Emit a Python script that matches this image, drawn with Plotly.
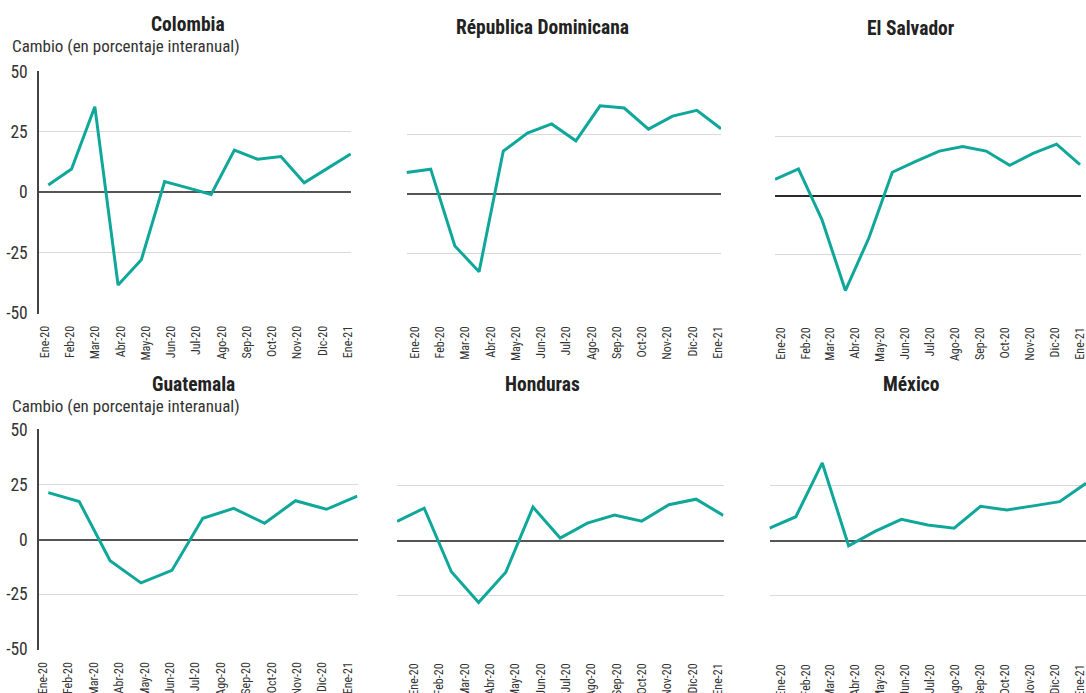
import plotly.graph_objects as go

# ---------------- data ----------------
tick_labels = ["Ene-20", "Feb-20", "Mar-20", "Abr-20", "May-20", "Jun-20", "Jul-20",
               "Ago-20", "Sep-20", "Oct-20", "Nov-20", "Dic-20", "Ene-21"]

colombia = [3.0, 9.6, 35.5, -38.5, -28.0, 4.4, 1.8, -0.9, 17.5, 13.7, 14.8, 3.9, 9.9, 15.9]
rep_dominicana = [9.2, 10.6, -21.7, -32.5, 18.2, 25.8, 29.6, 22.5, 37.2, 36.3, 27.4, 32.9, 35.3, 27.6]
el_salvador = [6.8, 11.2, -10.1, -40.0, -17.9, 9.8, 14.4, 18.7, 20.6, 18.7, 12.7, 17.7, 21.6, 13.0]
guatemala = [21.4, 17.3, -9.7, -19.8, -14.1, 9.7, 14.2, 7.4, 17.7, 13.8, 19.8]
honduras = [8.8, 14.8, -14.2, -28.2, -14.4, 15.3, 1.2, 8.0, 11.7, 8.9, 16.4, 18.9, 11.5]
mexico = [5.6, 10.8, 35.1, -2.3, 4.2, 9.6, 7.1, 5.6, 15.5, 13.9, 15.7, 17.6, 25.9]

y_ticks = [-50, -25, 0, 25, 50]
y_title = "Cambio (en porcentaje interanual)"

# ---------------- layout geometry (pixels) ----------------
W, H = 1086, 693
FONT = "Roboto Condensed, Liberation Sans Narrow, DejaVu Sans Condensed, Roboto, sans-serif"
LINE = "#0fa79a"

panels = [
    # name, values, x0, x1, first_pt, last_pt, ytop, ybot, lab_first, lab_last, show_y, title_xy, zero colour
    ("Colombia", colombia, 39, 351, 48.3, 350.7, 71, 313.5, 45, 348, True, (188, 24), "#555555"),
    ("Républica Dominicana", rep_dominicana, 406.5, 721, 406.5, 721, 74.7, 314, 415, 718, False, (542.5, 27), "#555555"),
    ("El Salvador", el_salvador, 775, 1081, 775, 1080, 76, 315, 780.7, 1080, False, (911, 28), "#2a2a2a"),
    ("Guatemala", guatemala, 39, 357.5, 48.3, 357.3, 429.3, 649.7, 43, 348, True, (193, 384), "#555555"),
    ("Honduras", honduras, 397, 723.5, 397, 723.3, 430.3, 651, 414, 718.3, False, (542.5, 384), "#555555"),
    ("México", mexico, 769.5, 1086, 769.5, 1086, 429.3, 652, 780.7, 1080, False, (911, 384), "#555555"),
]

fig = go.Figure()
annotations = []
layout = {}

for i, (name, vals, x0, x1, fp, lp, yt, yb, lf, ll, show_y, (tx, ty), zc) in enumerate(panels, start=1):
    n = len(vals)
    step = (lp - fp) / (n - 1)
    xr = [(x0 - fp) / step, (x1 - fp) / step]
    lstep = (ll - lf) / (len(tick_labels) - 1)
    tickvals = [((lf + k * lstep) - fp) / step for k in range(len(tick_labels))]
    xa = "x" if i == 1 else f"x{i}"
    ya = "y" if i == 1 else f"y{i}"
    fig.add_trace(go.Scatter(
        x=list(range(n)), y=vals, mode="lines",
        line=dict(color=LINE, width=3), xaxis=xa, yaxis=ya,
        showlegend=False, hoverinfo="skip"))
    layout["xaxis" if i == 1 else f"xaxis{i}"] = dict(
        domain=[x0 / W, min(x1 / W, 1.0)], range=xr, anchor=ya, automargin=False,
        showgrid=False, zeroline=False, showline=False,
        tickmode="array", tickvals=tickvals, ticktext=tick_labels,
        tickangle=-90, ticks="", ticklabelstandoff=9, ticklabeloverflow="allow",
        tickfont=dict(family=FONT, size=12, color="#333333"))
    layout["yaxis" if i == 1 else f"yaxis{i}"] = dict(
        domain=[(H - yb) / H, (H - yt) / H], range=[-50.3, 50.3], anchor=xa, automargin=False,
        tickmode="array", tickvals=y_ticks, ticktext=[str(v) for v in y_ticks],
        showticklabels=show_y, ticks="", ticklabelstandoff=6,
        showgrid=True, gridcolor="#d9d9d9", gridwidth=1,
        zeroline=True, zerolinecolor=zc, zerolinewidth=1.5,
        showline=show_y, linecolor="#444444", linewidth=1.5,
        tickfont=dict(family=FONT, size=17.5, color="#333333"))
    annotations.append(dict(
        text=f"<b>{name}</b>", x=tx / W, y=(H - ty) / H, xref="paper", yref="paper",
        xanchor="center", yanchor="middle", showarrow=False,
        font=dict(family=FONT, size=19.5, color="#222222")))
    if show_y:
        annotations.append(dict(
            text=y_title, x=10 / W, y=(H - (ty + 22)) / H, xref="paper", yref="paper",
            xanchor="left", yanchor="middle", showarrow=False,
            font=dict(family=FONT, size=17, color="#333333")))

fig.update_layout(
    width=W, height=H, margin=dict(l=0, r=0, t=0, b=0, autoexpand=False),
    paper_bgcolor="white", plot_bgcolor="white",
    annotations=annotations, **layout)

fig.write_html("out.html", config={"displayModeBar": False},
               post_script="document.body.style.margin='0';document.body.style.overflow='hidden';")
